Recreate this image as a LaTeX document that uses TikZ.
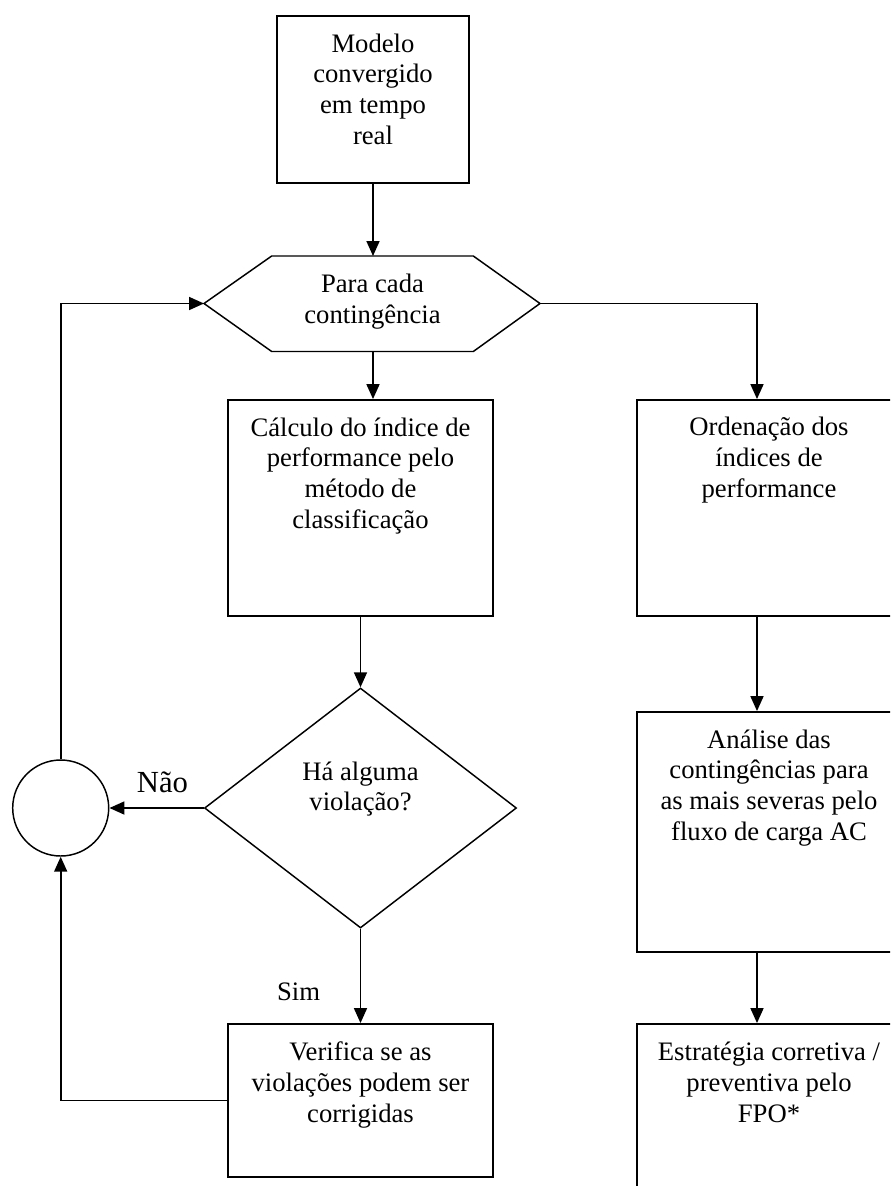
\documentclass[tikz,border=0pt]{standalone}
\usepackage{fontspec}
\setmainfont{Liberation Serif}
\usetikzlibrary{arrows.meta,shapes.geometric}
\begin{document}
\begin{tikzpicture}[x=0.75pt,y=-0.75pt,
  box/.style={draw,line width=1.4pt,rectangle,inner sep=0pt},
  shp/.style={draw,line width=1.1pt,inner sep=0pt},
  txt/.style={align=center,inner sep=0pt,anchor=base,font=\fontsize{20}{23}\selectfont},
  conn/.style={line width=1.3pt},
  arr/.style={conn,-{Triangle[length=11.25pt,width=9.75pt]}},
]
\useasboundingbox (0,0) rectangle (890,1186);
\clip (0,0) rectangle (890,1186);

% boxes
\node[box,minimum width=144pt,minimum height=125.25pt] (b1) at (373,99.5) {};
\node[box,minimum width=198.75pt,minimum height=162pt] (b2) at (360.5,508) {};
\node[box,minimum width=198pt,minimum height=162pt] (b3) at (769,508) {};
\node[box,minimum width=198.75pt,minimum height=114.75pt] (b4) at (360.5,1100.5) {};
\node[box,minimum width=198pt,minimum height=180pt] (b5) at (769,832) {};
\node[box,minimum width=198pt,minimum height=147pt] (b6) at (769,1122) {};

% hexagon
\coordinate (hL) at (204,303.5);
\coordinate (hR) at (540,303.5);
\coordinate (hT) at (373,256);
\coordinate (hB) at (373,351.5);
\draw[line width=1.1pt,line join=miter] (hL) -- (271.7,256) -- (473.3,256) -- (hR) -- (473.3,351.5) -- (271.7,351.5) -- cycle;

% decision and connector circle
\node[shp,diamond,minimum width=234pt,minimum height=180pt] (dia) at (360.5,808) {};
\node[shp,circle,minimum size=72pt] (circ) at (60.7,808) {};

% texts (anchored at the baseline of the last line)
\node[txt] (t1) at (373,144) {Modelo\\convergido\\em tempo\\real};
\node[txt] (hex) at (372.5,323) {Para cada\\contingência};
\node[txt] (t2) at (360.5,528) {Cálculo do índice de\\performance pelo\\método de\\classificação};
\node[txt] (t3) at (769,497.3) {Ordenação dos\\índices de\\performance};
\node[txt] (td) at (360.5,810.7) {Há alguma\\violação?};
\node[txt] (t4) at (360.5,1122.3) {Verifica se as\\violações podem ser\\corrigidas};
\node[txt] (t5) at (769,840) {Análise das\\contingências para\\as mais severas pelo\\fluxo de carga AC};
\node[txt] (t6) at (769,1122.3) {Estratégia corretiva /\\preventiva pelo\\FPO*};
\node[txt,font=\fontsize{23}{26}\selectfont] (nao) at (162.5,792) {Não};
\node[txt] (sim) at (298.5,1000) {Sim};

% connectors
\draw[arr] (b1.south) -- (hT);
\draw[arr] (hB) -- (hB |- b2.north);
\draw[arr] (hR) -| ([xshift=-9pt]b3.north);
\draw[arr] (b2.south) -- (dia.north);
\draw[arr] (dia.west) -- (circ.east);
\draw[arr] (circ.north) |- (hL);
\draw[arr] (dia.south) -- (b4.north);
\draw[arr] (b4.west) -| (circ.south);
\draw[arr] ([xshift=-9pt]b3.south) -- ([xshift=-9pt]b5.north);
\draw[arr] ([xshift=-9pt]b5.south) -- ([xshift=-9pt]b6.north);
\end{tikzpicture}
\end{document}
